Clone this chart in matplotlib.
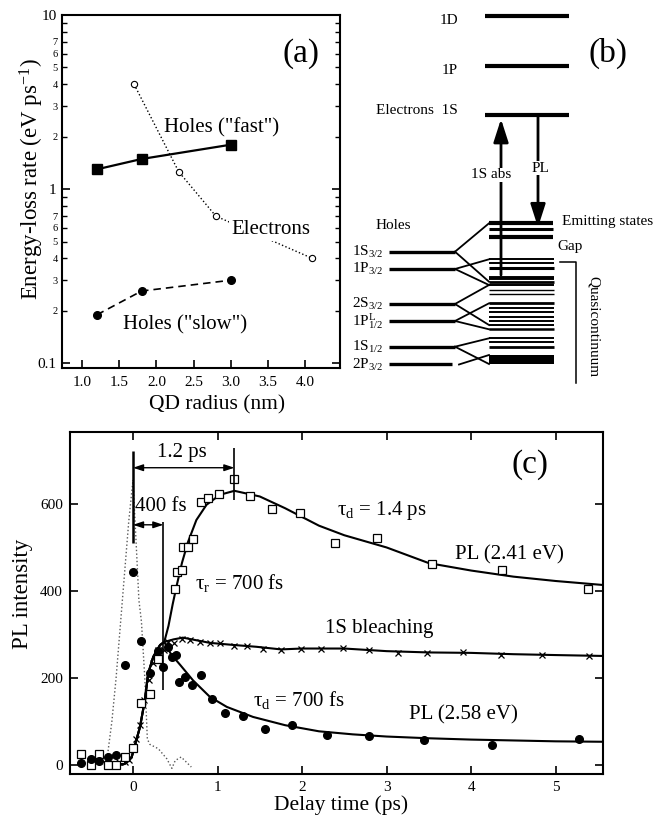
import numpy as np
import matplotlib
matplotlib.use('Agg')
import matplotlib.pyplot as plt
from matplotlib.ticker import FixedLocator, FuncFormatter, LogLocator

plt.rcParams.update({
    'font.family': ['Liberation Serif', 'DejaVu Serif'],
    'mathtext.fontset': 'custom',
    'mathtext.rm': 'Liberation Serif',
    'mathtext.it': 'Liberation Serif:italic',
    'mathtext.bf': 'Liberation Serif:bold',
    'axes.linewidth': 1.5,
    'xtick.direction': 'in',
    'ytick.direction': 'in',
})

# ---- (a) energy-loss rate vs QD radius
r_fast = [1.2, 1.8, 3.0]
rate_fast = [1.30, 1.49, 1.80]
r_el = [1.7, 2.3, 2.8, 4.1]
rate_el = [4.0, 1.26, 0.70, 0.40]
r_slow = [1.2, 1.8, 3.0]
rate_slow = [0.19, 0.26, 0.30]
xticks_a = [1.0, 1.5, 2.0, 2.5, 3.0, 3.5, 4.0]

# ---- (b) level diagram (diagram units, y grows downward)
e_levels = [16, 66, 115]
e_names = ['1D', '1P', 'Electrons  1S']
e_label_y = [21, 70, 110]
hole_levels = [251.7, 269, 304, 321, 346.7, 364.5]
hole_names = [r'1S$_{3/2}$', r'1P$_{3/2}$', r'2S$_{3/2}$',
              r'1P$^{\rm L}_{1/2}$', r'1S$_{1/2}$', r'2P$_{3/2}$']
emit_levels = [223.3, 229.5, 236.7]
emit_widths = [3.0, 2.2, 3.0]
quasi_levels = [259.3, 263.3, 268.3, 278.3, 281.7, 285, 290, 294, 303.3,
                307.7, 311.7, 316.7, 321, 325, 329.3, 338.3, 342.3, 346.7]
quasi_widths = [1.4, 1.4, 2.2, 2.8, 2.0, 1.4, 1.0, 1.0, 2.0,
                1.4, 1.4, 1.4, 1.4, 1.4, 1.8, 1.4, 1.4, 2.0]
dense_band = (355, 364.5)
# (hole level index, target level) of the mixing lines
links = [(0, 223.3), (0, 281.7), (1, 259.3), (1, 285), (2, 285), (2, 325),
         (3, 303.3), (3, 329.3), (4, 338.3), (4, 364)]

# ---- (c) time-resolved PL
pulse_t = [-0.34, -0.3, -0.25, -0.2, -0.15, -0.1, -0.05, 0.0, 0.04, 0.07,
           0.1, 0.14, 0.17, 0.2, 0.3, 0.4, 0.46, 0.5, 0.57, 0.69]
pulse_v = [0, 25, 100, 200, 320, 440, 560, 655, 500, 379,
           330, 200, 60, 48, 38, 15, -7, 11, 19, -4]

rise_t = [-0.25, -0.1, -0.015, 0.083, 0.14, 0.18, 0.24, 0.32, 0.37]
rise_v = [0, 3, 19, 88, 149, 211, 249, 276, 283]
fit241_t = [0.42, 0.47, 0.52, 0.58, 0.65, 0.75, 0.87, 1.03, 1.2, 1.5, 1.8,
            2.2, 2.5, 3.0, 3.5, 4.0, 4.5, 5.0, 5.55]
fit241_v = [320, 370, 415, 465, 512, 563, 598, 621, 630, 617, 590,
            550, 528, 500, 464, 447, 433, 423, 414]
fitbl_t = [0.48, 0.59, 0.75, 0.91, 1.2, 1.46, 1.75, 2.0, 2.5, 3.0, 3.5,
           4.0, 4.5, 5.0, 5.55]
fitbl_v = [289, 293, 287, 281, 276, 272, 266, 268, 268, 262, 259,
           258, 255, 253, 251]
fit258_t = [0.45, 0.56, 0.71, 0.91, 1.11, 1.42, 1.8, 2.2, 2.6, 3.0, 3.5,
            4.0, 4.5, 5.0, 5.55]
fit258_v = [255, 230, 195, 157, 134, 111, 92, 78, 71, 66, 62,
            59, 57, 55, 54]

sq_t = [-0.61, -0.5, -0.4, -0.3, -0.2, -0.1, 0.0, 0.095, 0.197, 0.3, 0.5,
        0.52, 0.58, 0.59, 0.65, 0.71, 0.8, 0.89, 1.02, 1.2, 1.39, 1.65, 1.98,
        2.39, 2.89, 3.54, 4.36, 5.38]
sq_v = [27, 0, 25, 0, 0, 20, 40, 143, 163, 245, 404,
        444, 448, 500, 500, 520, 605, 613, 623, 657, 617, 588, 579,
        510, 522, 461, 448, 404]
bl_t = [-0.16, -0.1, -0.05, 0.035, 0.087, 0.13, 0.185, 0.24, 0.3, 0.37,
        0.41, 0.48, 0.58, 0.67, 0.79, 0.91, 1.03, 1.19, 1.35, 1.54, 1.75,
        1.99, 2.23, 2.49, 2.79, 3.13, 3.48, 3.90, 4.35, 4.84, 5.39]
bl_v = [8, 8, 11, 61, 92, 150, 195, 234, 264, 264,
        284, 281, 291, 287, 284, 281, 281, 274, 274, 268, 264,
        268, 268, 270, 264, 258, 258, 260, 253, 253, 251]
ci_t = [-0.61, -0.5, -0.4, -0.3, -0.2, -0.1, 0.0, 0.1, 0.2, 0.3, 0.36,
        0.42, 0.46, 0.51, 0.55, 0.62, 0.7, 0.8, 0.93, 1.09, 1.3, 1.56, 1.88,
        2.29, 2.79, 3.44, 4.25, 5.28]
ci_v = [5, 15, 10, 18, 23, 230, 444, 285, 211, 262, 225,
        272, 249, 254, 192, 203, 185, 208, 153, 119, 113, 84, 92,
        69, 67, 59, 46, 61]

W, H = 664, 822
fig = plt.figure(figsize=(W / 100, H / 100), dpi=100)

# ================= panel (a)
axa = fig.add_axes([62 / W, 1 - 368 / H, 278 / W, 353 / H])
axa.plot(r_fast, rate_fast, color='k', lw=1.6, marker='s', ms=6.5)
axa.plot(r_el, rate_el, color='k', ls=':', lw=1.0, marker='o', ms=4.5,
         mfc='white', mew=0.8)
axa.plot(r_slow, rate_slow, color='k', ls='--', lw=1.2, marker='o', ms=5.5,
         dashes=(4.5, 3))
axa.set_yscale('log')
axa.set_xlim(0.73, 4.47)
axa.set_ylim(0.094, 10)
axa.xaxis.set_major_locator(FixedLocator(xticks_a))
axa.xaxis.set_major_formatter(FuncFormatter(lambda v, p: f'{v:.1f}'))
axa.yaxis.set_major_locator(FixedLocator([0.1, 1, 10]))
axa.yaxis.set_major_formatter(FuncFormatter(lambda v, p: f'{v:g}'))
axa.yaxis.set_minor_locator(LogLocator(base=10, subs=range(2, 10)))


def minor_lab(v, p):
    m = int(round(v / 10 ** np.floor(np.log10(v) + 1e-9)))
    return str(m) if 2 <= m <= 7 else ''


axa.yaxis.set_minor_formatter(FuncFormatter(minor_lab))
axa.tick_params(axis='y', which='both', right=True)
axa.tick_params(which='major', length=6, width=1.2, labelsize=11, pad=4)
axa.tick_params(which='minor', length=3.5, width=1.0, labelsize=7.5, pad=3)
axa.tick_params(axis='x', which='major', pad=6)
axa.set_xlabel('QD radius (nm)', fontsize=15.5)
axa.xaxis.set_label_coords(0.556, -0.077)
axa.set_ylabel(r'Energy-loss rate (eV ps$^{-1}$)', fontsize=16.5)
axa.yaxis.set_label_coords(-0.058, 0.535)
axa.text(2.88, 2.24, 'Holes ("fast")', fontsize=15, ha='center', va='center')
axa.text(2.38, 0.166, 'Holes ("slow")', fontsize=15, ha='center', va='center')
axa.text(3.54, 0.59, 'Electrons', fontsize=15, ha='center', va='center',
         bbox=dict(facecolor='white', edgecolor='none', pad=1.5), zorder=5)
axa.text(3.94, 6.0, '(a)', fontsize=24, ha='center', va='center')

# ================= panel (b)
axb = fig.add_axes([345 / W, 1 - 400 / H, 319 / W, 400 / H])
axb.set_xlim(345, 664)
axb.set_ylim(400, 0)
axb.axis('off')
axb.patch.set_visible(False)
fs_b = 11

axb.hlines(e_levels, 485, 569, color='k', lw=3.0)
for yl, name in zip(e_label_y, e_names):
    axb.text(458, yl, name, fontsize=fs_b, ha='right', va='center')

axb.hlines(hole_levels[:-1], 389, 455, color='k', lw=2.4)
axb.hlines(hole_levels[-1:], 389, 452, color='k', lw=2.4)
for yl, name in zip(hole_levels, hole_names):
    axb.text(383, yl, name, fontsize=fs_b, ha='right', va='center')
axb.text(376, 225, 'Holes', fontsize=fs_b, ha='left', va='center')

for yl, lw in zip(emit_levels, emit_widths):
    axb.hlines(yl, 489, 553, color='k', lw=lw)
for yl, lw in zip(quasi_levels, quasi_widths):
    axb.hlines(yl, 489, 554, color='k', lw=lw)
axb.fill_between([489, 554], dense_band[0], dense_band[1], color='k', lw=0)

for i, yt in links:
    axb.plot([455, 489], [hole_levels[i], yt], color='k', lw=1.3)
axb.plot([459, 489], [hole_levels[-1], dense_band[0]], color='k', lw=1.3)

arrow_kw = dict(arrowstyle='-|>,head_length=1.4,head_width=0.45',
                color='k', lw=2.0, mutation_scale=10, shrinkA=0, shrinkB=0)
axb.annotate('', xy=(501, e_levels[2] + 4), xytext=(501, 275),
             arrowprops=arrow_kw)
axb.annotate('', xy=(538, emit_levels[0] + 4), xytext=(538, e_levels[2]),
             arrowprops=arrow_kw)
axb.text(491, 175, '1S abs', fontsize=fs_b, ha='center', va='center',
         bbox=dict(facecolor='white', edgecolor='none', pad=0.5), zorder=5)
axb.text(540, 168, 'PL', fontsize=fs_b, ha='center', va='center',
         bbox=dict(facecolor='white', edgecolor='none', pad=0.5), zorder=5)
axb.text(562, 221, 'Emitting states', fontsize=fs_b, ha='left', va='center')
axb.text(557, 246, 'Gap', fontsize=fs_b, ha='left', va='center')
axb.plot([560, 576, 576], [262, 262, 383], color='k', lw=1.1)
axb.text(593, 327, 'Quasicontinuum', fontsize=fs_b, ha='center', va='center',
         rotation=270)
axb.text(608, 53, '(b)', fontsize=24, ha='center', va='center')

# ================= panel (c)
axc = fig.add_axes([70 / W, 1 - 774 / H, 533 / W, 342 / H])
axc.plot(pulse_t, pulse_v, color='0.35', ls=':', lw=1.0)
axc.plot(rise_t + fit241_t, rise_v + fit241_v, color='k', lw=1.5)
axc.plot(rise_t + fitbl_t, rise_v + fitbl_v, color='k', lw=1.5)
axc.plot(rise_t + fit258_t, rise_v + fit258_v, color='k', lw=1.5)
axc.plot(bl_t, bl_v, ls='none', marker='x', color='k', ms=5, mew=0.9)
axc.plot(sq_t, sq_v, ls='none', marker='s', mfc='white', mec='k', ms=5.5,
         mew=0.9)
axc.plot(ci_t, ci_v, ls='none', marker='o', color='k', ms=5.5)

axc.vlines(0, 510, 722, color='k', lw=1.8)
axc.vlines(1.2, 609, 729, color='k', lw=1.2)
axc.vlines(0.36, 172, 559, color='k', lw=1.2)
dbl = dict(arrowstyle='<|-|>,head_length=0.6,head_width=0.2', color='k',
           lw=1.0, mutation_scale=10, shrinkA=0, shrinkB=0)
axc.annotate('', xy=(0, 683), xytext=(1.2, 683), arrowprops=dbl)
axc.annotate('', xy=(0, 552), xytext=(0.36, 552), arrowprops=dbl)

fs_c = 15
axc.text(0.58, 717, '1.2 ps', fontsize=fs_c, ha='center', va='center')
axc.text(0.02, 593, '400 fs', fontsize=fs_c, ha='left', va='center')
axc.text(0.73, 418, r'τ$_{\rm r}$ = 700 fs', fontsize=fs_c, ha='left', va='center')
axc.text(1.42, 150, r'τ$_{\rm d}$ = 700 fs', fontsize=fs_c, ha='left', va='center')
axc.text(2.41, 585, r'τ$_{\rm d}$ = 1.4 ps', fontsize=fs_c, ha='left', va='center')
axc.text(3.81, 483, 'PL (2.41 eV)', fontsize=fs_c, ha='left', va='center')
axc.text(2.27, 315, '1S bleaching', fontsize=fs_c, ha='left', va='center')
axc.text(3.27, 115, 'PL (2.58 eV)', fontsize=fs_c, ha='left', va='center')
axc.text(4.7, 690, '(c)', fontsize=24, ha='center', va='center')

axc.set_xlim(-0.745, 5.56)
axc.set_ylim(-20, 765)
axc.set_xticks([0, 1, 2, 3, 4, 5])
axc.set_yticks([0, 200, 400, 600])
axc.tick_params(top=True, right=True, length=6, width=1.2, labelsize=11, pad=5)
axc.set_xlabel('Delay time (ps)', fontsize=15.5)
axc.xaxis.set_label_coords(0.509, -0.062)
axc.set_ylabel('PL intensity', fontsize=16.5)
axc.yaxis.set_label_coords(-0.07, 0.526)

fig.savefig('out.png', dpi=100)
